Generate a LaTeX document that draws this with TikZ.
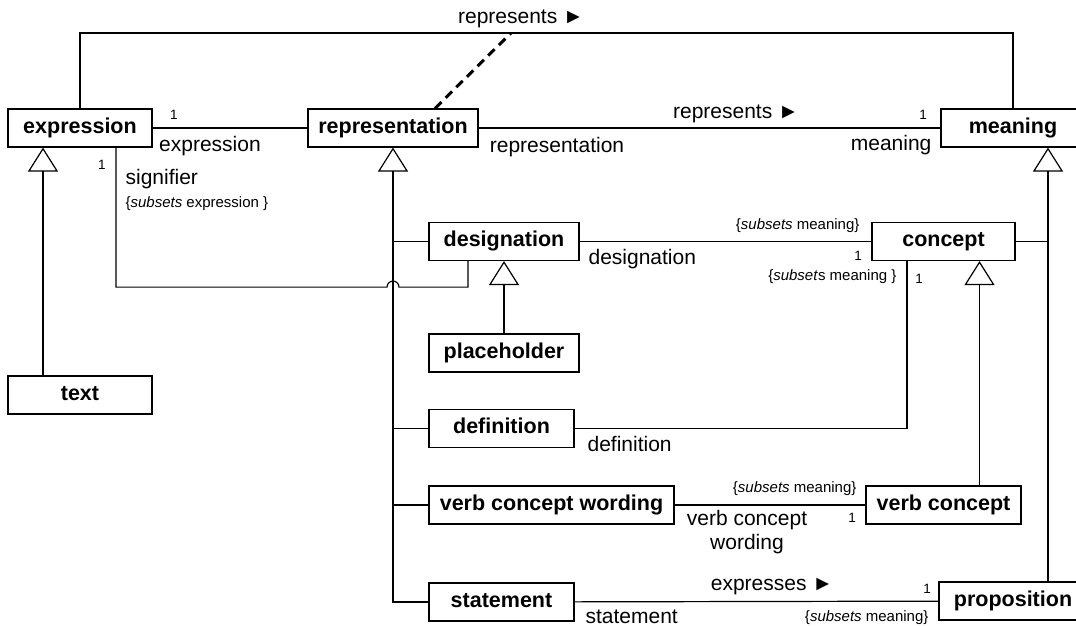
\documentclass[tikz,border=0pt]{standalone}
\usepackage{fontspec}
\setmainfont{Liberation Sans}
\usetikzlibrary{positioning, arrows.meta}

\begin{document}
\begin{tikzpicture} [x=1pt, y=-1pt,
            line width=1.2pt,
            on grid,
            cls/.style = {draw, fill=white, minimum width=144pt,
                minimum height=38pt, inner sep=0pt,
                text height=15pt, text depth=4.3pt,
                font=\fontsize{21.5}{24}\selectfont\bfseries},
            lbl/.style = {inner sep=0pt, text height=14.7pt, text depth=4.2pt,
                font=\fontsize{21}{24}\selectfont},
            note/.style = {inner sep=0pt, text height=10.5pt, text depth=3pt,
                font=\fontsize{15}{18}\selectfont},
            mult/.style = {inner sep=0pt, font=\fontsize{13.5}{16}\selectfont},
            gen/.style = {-{Triangle[open, length=24pt, width=30pt]}}]

        \useasboundingbox (0,0) rectangle (1076,626);

        % Class expression
        \node (expression) [cls] at (80,128) {expression};

        % Class representation
        \node (representation) [cls, minimum width=170pt,
            right = 313pt of expression] {representation};

        % Class meaning
        \node (meaning) [cls,
            right = 620pt of representation] {meaning};

        % Class text
        \node (text) [cls,
            below = 267pt of expression] {text};

        % Class designation
        \node (designation) [cls, minimum width=150pt,
            below right = 113.5pt and 111pt of representation] {designation};

        % Class placeholder
        \node (placeholder) [cls, minimum width=150pt,
            below = 111.5pt of designation] {placeholder};

        % Class definition
        \node (definition) [cls, minimum width=145pt,
            below = 187pt of designation.west, anchor=west] {definition};

        % Class verb concept wording
        \node (vcwording) [cls, minimum width=245pt,
            below = 263.5pt of designation.west, anchor=west] {verb concept wording};

        % Class statement
        \node (statement) [cls, minimum width=145pt,
            below = 360.5pt of designation.west, anchor=west] {statement};

        % Class concept
        \node (concept) [cls, minimum width=143pt,
            right = 439.5pt of designation] {concept};

        % Class verb concept
        \node (verbconcept) [cls, minimum width=155pt,
            below = 263.5pt of concept] {verb concept};

        % Class proposition
        \node (proposition) [cls, minimum width=148pt,
            below = 473pt of meaning] {proposition};

        % Associations
        \coordinate (topline) at (511,33);
        \draw (expression.north) |- (topline) -| (meaning.north);
        \draw [line width=3pt, dash pattern=on 9pt off 6pt]
            ([xshift=42pt]representation.north) -- (topline);
        \draw (expression) -- (representation);
        \draw (representation) -- (meaning);
        \draw (designation) -- (concept);
        \draw (vcwording) -- (verbconcept);
        \draw (statement) -- (proposition);
        \draw ([xshift=-36.5pt]concept.south) |- (definition.east);

        % Generalizations
        \coordinate (rgen) at (representation.south);
        \coordinate (mgen) at ([xshift=35pt]meaning.south);
        \coordinate (cgen) at ([xshift=36pt]concept.south);
        \draw [gen] ([xshift=-37pt]text.north) -- ([xshift=-37pt]expression.south);
        \draw [gen] (statement.west) -| (rgen);
        \foreach \c in {designation, definition, vcwording}
            \draw (rgen |- \c.west) -- (\c.west);
        \draw [gen] (placeholder) -- (designation);
        \draw [gen] (mgen |- proposition.north) -- (mgen);
        \draw (concept.east) -- (mgen |- concept.east);
        \draw [gen] (cgen |- verbconcept.north) -- (cgen);

        % Signifier, jumping over the generalization line
        \coordinate (jump) at ([xshift=-36pt, yshift=-26pt]designation.south);
        \draw ([xshift=36pt]expression.south) |- ([xshift=-6pt]rgen |- jump)
            arc [start angle=180, end angle=0, radius=6pt]
            -| ([xshift=-36pt]designation.south);

        % Labels
        \node (toprep) [lbl] at (521,18) {represents ►};
        \node (m1) [mult] at (174,115) {1};
        \node (r1) [lbl] at (210,146) {expression};
        \node (midrep) [lbl] at (736,113) {represents ►};
        \node (r2) [lbl] at (557,147) {representation};
        \node (m2) [mult] at (923,115) {1};
        \node (r3) [lbl, anchor=east] at (932,145) {meaning};
        \node (m3) [mult] at (102,165) {1};
        \node (r4) [lbl, anchor=west] at (125,179) {signifier};
        \node (n1) [note, anchor=west] at (125,204) {\{\textit{subsets} expression \}};
        \node (n2) [note, anchor=east] at (860,226) {\{\textit{subsets} meaning\}};
        \node (r5) [lbl, anchor=west] at (588,259) {designation};
        \node (m4) [mult] at (858,256) {1};
        \node (n3) [note, anchor=east] at (897,277) {\{\textit{subset}s meaning \}};
        \node (m5) [mult] at (919,279) {1};
        \node (r6) [lbl, anchor=west] at (587,446) {definition};
        \node (n4) [note, anchor=east] at (857,489) {\{\textit{subsets} meaning\}};
        \node (m6) [mult] at (852,518) {1};
        \node (r7) [lbl, align=center, text height=, text depth=] at (747,532) {verb concept\\wording};
        \node (expr) [lbl] at (772,585) {expresses ►};
        \node (r8) [lbl, anchor=west] at (585,618) {statement};
        \node (m7) [mult] at (927,589) {1};
        \node (n5) [note, anchor=east] at (929,618) {\{\textit{subsets} meaning\}};
\end{tikzpicture}
\end{document}
